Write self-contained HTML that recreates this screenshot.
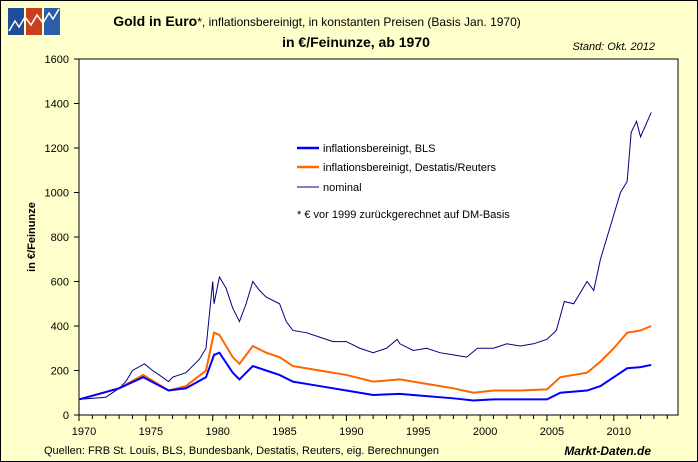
<!DOCTYPE html>
<html><head><meta charset="utf-8"><style>
body{margin:0}
#c{position:relative;width:696px;height:460px;background:#ffffcc;border:1px solid #000;font-family:"Liberation Sans",sans-serif;overflow:hidden}
</style></head><body>
<div id="c">
<svg width="696" height="460" font-family="Liberation Sans, sans-serif">
<g>
<rect x="7" y="7" width="16" height="27" fill="#1f4e96"/><rect x="25" y="7" width="16" height="27" fill="#c8401e"/><rect x="43" y="7" width="16" height="27" fill="#2a5fa8"/>
<polyline points="8,30 14,20 18,26 24,16 30,24 36,14 42,22 48,12 52,18 58,8" fill="none" stroke="#fff" stroke-width="1.5"/>
</g>
<text x="316" y="25" text-anchor="middle" font-size="14"><tspan font-weight="bold">Gold in Euro</tspan><tspan font-size="12">*, inflationsbereinigt, in konstanten Preisen (Basis Jan. 1970)</tspan></text>
<text x="355" y="46" text-anchor="middle" font-size="14" font-weight="bold">in €/Feinunze, ab 1970</text>
<text x="654" y="49" text-anchor="end" font-size="11" font-style="italic">Stand: Okt. 2012</text>
<rect x="78" y="58" width="599" height="356" fill="#fff" stroke="#000"/>
<g id="axes"></g>
<g id="series"></g>
<text x="34" y="236" text-anchor="middle" font-size="11" font-weight="bold" transform="rotate(-90 34 236)">in €/Feinunze</text>
<g font-size="11">
<line x1="296" y1="147" x2="318" y2="147" stroke="#0000ff" stroke-width="2.5"/><text x="322" y="151">inflationsbereinigt, BLS</text>
<line x1="296" y1="166" x2="318" y2="166" stroke="#ff6600" stroke-width="2.5"/><text x="322" y="170">inflationsbereinigt, Destatis/Reuters</text>
<line x1="296" y1="186" x2="318" y2="186" stroke="#000080" stroke-width="1"/><text x="322" y="190">nominal</text>
<text x="296" y="217">* € vor 1999 zurückgerechnet auf DM-Basis</text>
</g>
<text x="43" y="453" font-size="11">Quellen: FRB St. Louis, BLS, Bundesbank, Destatis, Reuters, eig. Berechnungen</text>
<text x="650" y="454" text-anchor="end" font-size="12" font-weight="bold" font-style="italic">Markt-Daten.de</text>
</svg>
</div>
<script>
const yTicks=[0,200,400,600,800,1000,1200,1400,1600];
const xTicks=[1970,1975,1980,1985,1990,1995,2000,2005,2010];
const nomYears=[1970,1972,1973,1973.5,1974,1974.9,1975.5,1976,1976.7,1977,1978,1979,1979.5,1980,1980.1,1980.5,1981,1981.5,1982,1982.5,1983,1983.5,1984,1985,1985.5,1986,1987,1988,1989,1990,1991,1992,1993,1993.8,1994,1995,1996,1997,1998,1999,1999.8,2000,2001,2002,2003,2004,2005,2005.7,2006.3,2007,2008,2008.5,2009,2010,2010.5,2011,2011.3,2011.7,2012,2012.8];
const nomValues=[70,80,120,150,200,230,200,180,150,170,190,250,300,600,500,620,570,480,420,500,600,560,530,500,420,380,370,350,330,330,300,280,300,340,320,290,300,280,270,260,300,300,300,320,310,320,340,380,510,500,600,560,700,900,1000,1050,1270,1320,1250,1360];
const realYears=[1970,1973,1974.8,1976.7,1978,1979.5,1980.1,1980.5,1981.5,1982,1983,1984,1985,1986,1988,1990,1992,1994,1996,1998,1999.5,2001,2003,2005,2006,2008,2009,2010,2011,2012,2012.8];
const blsValues=[70,120,170,110,120,170,270,280,190,160,220,200,180,150,130,110,90,95,85,75,65,70,70,70,100,110,130,170,210,215,225];
const destatisValues=[70,120,180,110,130,200,370,360,260,230,310,280,260,220,200,180,150,160,140,120,100,110,110,115,170,190,240,300,370,380,400];
const NS='http://www.w3.org/2000/svg';
const X=y=>78+(y-1970)*13.37, Y=v=>414-v*0.2225;
const ax=document.getElementById('axes'), se=document.getElementById('series');
function mk(t,a,p){const e=document.createElementNS(NS,t);for(const k in a)e.setAttribute(k,a[k]);p.appendChild(e);return e;}
yTicks.forEach(v=>{mk('line',{x1:73,x2:78,y1:Y(v),y2:Y(v),stroke:'#000'},ax);
const t=mk('text',{x:68,y:Y(v)+4,'text-anchor':'end','font-size':11},ax);t.textContent=v;

});
for(let y=1970;y<=2014;y++){mk('line',{x1:X(y),x2:X(y),y1:414,y2:y%5?418:420,stroke:'#000'},ax);}
xTicks.forEach(v=>{const t=mk('text',{x:X(v)+5,y:434,'text-anchor':'middle','font-size':11},ax);t.textContent=v;

});
function line(xs,vs,c,w,n){const p=mk('polyline',{points:xs.map((x,i)=>X(x)+','+Y(vs[i])).join(' '),fill:'none',stroke:c,'stroke-width':w},se);

}
line(nomYears,nomValues,'#000080',1,'nominal-line');
line(realYears,destatisValues,'#ff6600',2,'destatis-line');
line(realYears,blsValues,'#0000ff',2,'bls-line');
</script>
</body></html>
